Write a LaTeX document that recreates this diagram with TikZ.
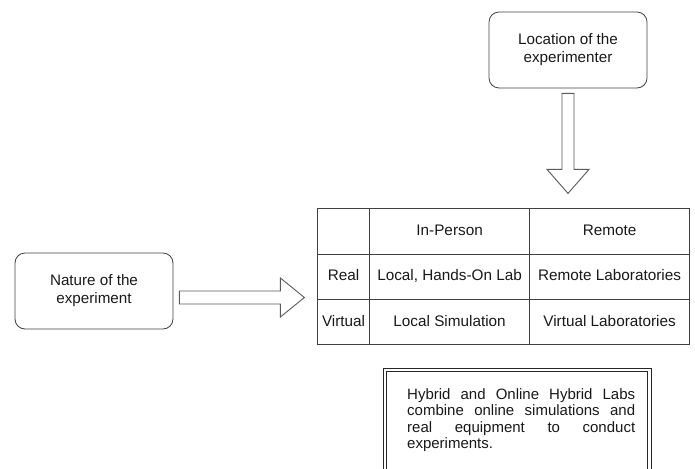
\documentclass[tikz,border=0pt]{standalone}
\usepackage{fontspec}
\setmainfont{Liberation Sans}
\usetikzlibrary{positioning, calc, matrix}

\tikzstyle{roundbox} = [rectangle, rounded corners=10pt, minimum width=158pt, minimum height=76pt, align=center, draw=black!75, line width=0.8pt, text=black!90, font=\fontsize{15.2}{18}\selectfont]
\tikzstyle{cell} = [rectangle, minimum height=45.4pt, text height=11pt, text depth=3pt, inner sep=1pt, draw=black!75, line width=0.8pt, text=black!90, font=\fontsize{15.3}{18}\selectfont]
\tikzstyle{blockarrow} = [draw=black!65, line width=0.9pt, fill=white, line join=miter]
\tikzstyle{notebox} = [draw=black!85, double, double distance=2.5pt, line width=0.9pt]
\tikzstyle{notetext} = [rectangle, inner sep=0pt, text width=228pt, align=justify, text=black!90, font=\fontsize{15}{16.3}\selectfont]

\begin{document}
\begin{tikzpicture}[x=1pt, y=-1pt]
\useasboundingbox (0,0) rectangle (695,468);

% Nodes
\node (loc) [roundbox] at (568,50) {Location of the\\experimenter};
\node (nat) [roundbox] at (94,291) {Nature of the\\experiment};
\matrix (tbl) [matrix of nodes, nodes={cell}, nodes in empty cells, inner sep=0pt, anchor=north west,
  column sep=-0.8pt, row sep=-0.8pt,
  column 1/.style={nodes={minimum width=52pt}},
  column 2/.style={nodes={minimum width=160pt}},
  column 3/.style={nodes={minimum width=160pt}}] at (317,208) {
          & In-Person           & Remote               \\
  Real    & Local, Hands-On Lab & Remote Laboratories  \\
  Virtual & Local Simulation    & Virtual Laboratories \\
};
\node (note) [notetext, anchor=north west] at (407,388.5) {Hybrid and Online Hybrid Labs combine online simulations and\linebreak real equipment to conduct\linebreak experiments.};

% Arrows
\draw [blockarrow, shift={($(loc.south)+(0,5)$)}] (-6,0) -- (6,0) -- (6,76) -- (21,76) -- (0,100) -- (-21,76) -- (-6,76) -- cycle;
\draw [blockarrow, shift={($(nat.east)+(6,6.5)$)}] (0,-6.5) -- (101,-6.5) -- (101,-19.5) -- (125,0) -- (101,19.5) -- (101,6.5) -- (0,6.5) -- cycle;

% Frame
\draw [notebox] ($(note.north west)+(-22,-18.5)$) rectangle ($(note.north east)+(14,110)$);

\end{tikzpicture}
\end{document}
